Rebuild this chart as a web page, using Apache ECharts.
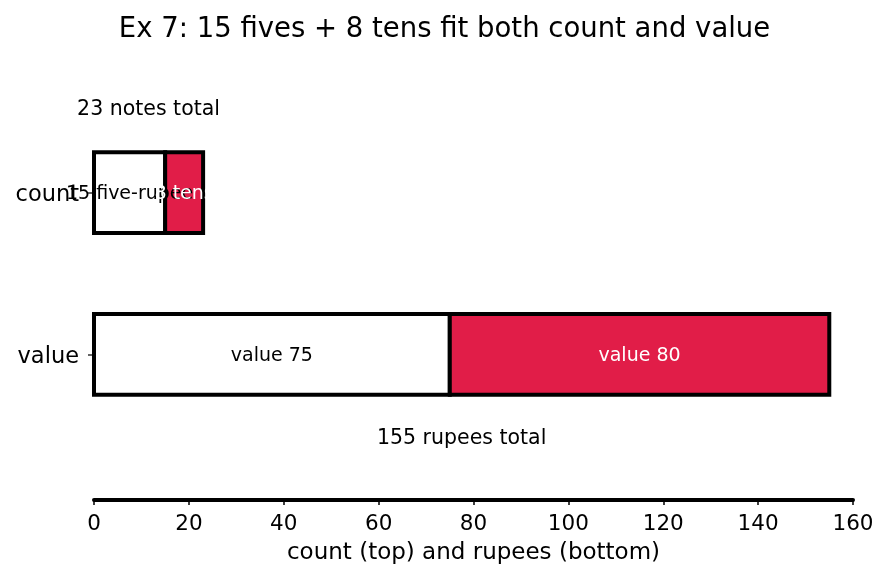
<!DOCTYPE html>
<html>
<head>
<meta charset="utf-8">
<script src="https://cdn.jsdelivr.net/npm/echarts@6/dist/echarts.min.js"></script>
<style>
    html, body { margin: 0; padding: 0; background: #fff; }
    #chart { width: 889px; height: 581px; }
</style>
</head>
<body>
<div id="chart"></div>
<script>
const categories = ['count', 'value'];
const fiveAmounts = [15, 75];
const tenAmounts = [8, 80];
const fiveLabels = ['15 five-rupee', 'value 75'];
const tenLabels = ['8 tens', 'value 80'];
const totalLabels = ['23 notes total', '155 rupees total'];
const totalRows = [-0.51, 1.52];
const xTicks = [0, 20, 40, 60, 80, 100, 120, 140, 160];

const FONT = 'DejaVu Sans';
const RED = '#e11d48';

// segments: [start, end, row, kind]
const segments = [];
categories.forEach((c, i) => {
    segments.push([0, fiveAmounts[i], i, 0]);
    segments.push([fiveAmounts[i], fiveAmounts[i] + tenAmounts[i], i, 1]);
});
const totals = categories.map((c, i) => [(fiveAmounts[i] + tenAmounts[i]) / 2, totalRows[i], i]);

function barRect(api) {
    const p0 = api.coord([api.value(0), api.value(2) - 0.25]);
    const p1 = api.coord([api.value(1), api.value(2) + 0.25]);
    return { x: p0[0], y: p0[1], width: p1[0] - p0[0], height: p1[1] - p0[1] };
}

const chart = echarts.init(document.getElementById('chart'));
chart.setOption({
    animation: false,
    title: {
        text: 'Ex 7: 15 fives + 8 tens fit both count and value',
        left: 'center',
        top: 11,
        textStyle: { fontFamily: FONT, fontSize: 27.5, fontWeight: 'normal', color: '#000' }
    },
    grid: { left: 94, right: 36, top: 47, bottom: 81 },
    xAxis: {
        type: 'value',
        min: 0, max: 160, interval: 20,
        name: 'count (top) and rupees (bottom)',
        nameLocation: 'middle',
        nameGap: 42,
        nameTextStyle: { fontFamily: FONT, fontSize: 23, color: '#000' },
        axisLine: { show: true, onZero: false, lineStyle: { color: '#000', width: 4 } },
        axisTick: { show: true, length: 5, lineStyle: { color: '#000', width: 1.5 } },
        axisLabel: {
            fontFamily: FONT, fontSize: 21.5, color: '#000', margin: 13,
            formatter: v => xTicks.includes(v) ? String(v) : ''
        },
        splitLine: { show: false }
    },
    yAxis: {
        type: 'value',
        inverse: true,
        min: -0.9, max: 1.9,
        axisLine: { show: false },
        axisTick: { show: true, inside: false, length: 6, customValues: [0, 1], lineStyle: { color: '#333', width: 1.5 } },
        axisLabel: {
            show: true, customValues: [0, 1], margin: 15,
            formatter: v => '{c|' + (categories[Math.round(v)] || '') + '}',
            rich: {
                c: { fontFamily: FONT, fontSize: 22.5, color: '#000', padding: [6, 0, 0, 0] }
            }
        },
        splitLine: { show: false }
    },
    series: [
        {
            type: 'custom',
            data: segments,
            renderItem: (params, api) => ({
                type: 'rect',
                shape: barRect(api),
                style: { fill: api.value(3) === 0 ? '#fff' : RED, stroke: '#000', lineWidth: 4 }
            }),
            z: 2
        },
        {
            type: 'custom',
            data: segments,
            renderItem: (params, api) => {
                const r = barRect(api);
                const row = api.value(2);
                const kind = api.value(3);
                return {
                    type: 'text',
                    style: {
                        x: r.x + r.width / 2, y: r.y + r.height / 2 + 1.5,
                        text: kind === 0 ? fiveLabels[row] : tenLabels[row],
                        fill: kind === 0 ? '#000' : '#fff',
                        font: '19px "DejaVu Sans"',
                        align: 'center', verticalAlign: 'middle'
                    }
                };
            },
            z: 3
        },
        {
            type: 'custom',
            data: totals,
            renderItem: (params, api) => {
                const p = api.coord([api.value(0), api.value(1)]);
                return {
                    type: 'text',
                    style: {
                        x: p[0], y: p[1],
                        text: totalLabels[api.value(2)],
                        fill: '#000',
                        font: '20.5px "DejaVu Sans"',
                        align: 'center', verticalAlign: 'middle'
                    }
                };
            },
            z: 3
        }
    ]
});
</script>
</body>
</html>
